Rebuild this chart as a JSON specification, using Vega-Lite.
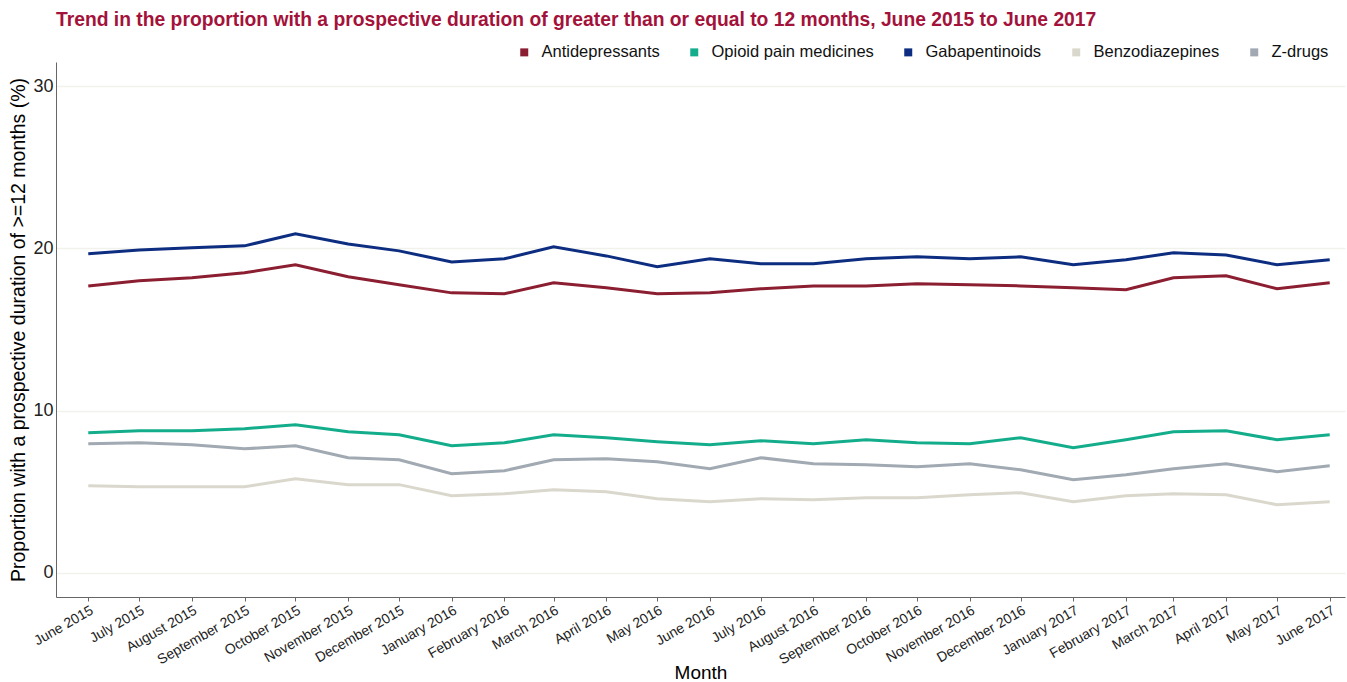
{
  "$schema": "https://vega.github.io/schema/vega-lite/v6.json",
  "autosize": {"type": "none"},
  "padding": {"left": 56, "top": 62, "right": 2, "bottom": 85},
  "width": 1289,
  "height": 535,
  "background": "white",
  "title": {
    "text": "Trend in the proportion with a prospective duration of greater than or equal to 12 months, June 2015 to June 2017",
    "anchor": "start",
    "frame": "group",
    "offset": 14,
    "font": "Liberation Sans",
    "fontSize": 19.3,
    "fontWeight": "bold",
    "color": "#a3123a"
  },
  "config": {
    "view": {"stroke": null},
    "font": "Liberation Sans"
  },
  "data": {
    "values": [
      {"month": "2015-06-01", "drug": "Antidepressants", "value": 17.69},
      {"month": "2015-07-01", "drug": "Antidepressants", "value": 18.0},
      {"month": "2015-08-01", "drug": "Antidepressants", "value": 18.19},
      {"month": "2015-09-01", "drug": "Antidepressants", "value": 18.5},
      {"month": "2015-10-01", "drug": "Antidepressants", "value": 18.99},
      {"month": "2015-11-01", "drug": "Antidepressants", "value": 18.25},
      {"month": "2015-12-01", "drug": "Antidepressants", "value": 17.76},
      {"month": "2016-01-01", "drug": "Antidepressants", "value": 17.26},
      {"month": "2016-02-01", "drug": "Antidepressants", "value": 17.2},
      {"month": "2016-03-01", "drug": "Antidepressants", "value": 17.88},
      {"month": "2016-04-01", "drug": "Antidepressants", "value": 17.57},
      {"month": "2016-05-01", "drug": "Antidepressants", "value": 17.2},
      {"month": "2016-06-01", "drug": "Antidepressants", "value": 17.26},
      {"month": "2016-07-01", "drug": "Antidepressants", "value": 17.51},
      {"month": "2016-08-01", "drug": "Antidepressants", "value": 17.69},
      {"month": "2016-09-01", "drug": "Antidepressants", "value": 17.69},
      {"month": "2016-10-01", "drug": "Antidepressants", "value": 17.82},
      {"month": "2016-11-01", "drug": "Antidepressants", "value": 17.76},
      {"month": "2016-12-01", "drug": "Antidepressants", "value": 17.69},
      {"month": "2017-01-01", "drug": "Antidepressants", "value": 17.57},
      {"month": "2017-02-01", "drug": "Antidepressants", "value": 17.45},
      {"month": "2017-03-01", "drug": "Antidepressants", "value": 18.19},
      {"month": "2017-04-01", "drug": "Antidepressants", "value": 18.31},
      {"month": "2017-05-01", "drug": "Antidepressants", "value": 17.51},
      {"month": "2017-06-01", "drug": "Antidepressants", "value": 17.88},

      {"month": "2015-06-01", "drug": "Opioid pain medicines", "value": 8.63},
      {"month": "2015-07-01", "drug": "Opioid pain medicines", "value": 8.75},
      {"month": "2015-08-01", "drug": "Opioid pain medicines", "value": 8.75},
      {"month": "2015-09-01", "drug": "Opioid pain medicines", "value": 8.88},
      {"month": "2015-10-01", "drug": "Opioid pain medicines", "value": 9.12},
      {"month": "2015-11-01", "drug": "Opioid pain medicines", "value": 8.69},
      {"month": "2015-12-01", "drug": "Opioid pain medicines", "value": 8.51},
      {"month": "2016-01-01", "drug": "Opioid pain medicines", "value": 7.83},
      {"month": "2016-02-01", "drug": "Opioid pain medicines", "value": 8.01},
      {"month": "2016-03-01", "drug": "Opioid pain medicines", "value": 8.51},
      {"month": "2016-04-01", "drug": "Opioid pain medicines", "value": 8.32},
      {"month": "2016-05-01", "drug": "Opioid pain medicines", "value": 8.08},
      {"month": "2016-06-01", "drug": "Opioid pain medicines", "value": 7.89},
      {"month": "2016-07-01", "drug": "Opioid pain medicines", "value": 8.14},
      {"month": "2016-08-01", "drug": "Opioid pain medicines", "value": 7.95},
      {"month": "2016-09-01", "drug": "Opioid pain medicines", "value": 8.2},
      {"month": "2016-10-01", "drug": "Opioid pain medicines", "value": 8.01},
      {"month": "2016-11-01", "drug": "Opioid pain medicines", "value": 7.95},
      {"month": "2016-12-01", "drug": "Opioid pain medicines", "value": 8.32},
      {"month": "2017-01-01", "drug": "Opioid pain medicines", "value": 7.71},
      {"month": "2017-02-01", "drug": "Opioid pain medicines", "value": 8.2},
      {"month": "2017-03-01", "drug": "Opioid pain medicines", "value": 8.69},
      {"month": "2017-04-01", "drug": "Opioid pain medicines", "value": 8.75},
      {"month": "2017-05-01", "drug": "Opioid pain medicines", "value": 8.2},
      {"month": "2017-06-01", "drug": "Opioid pain medicines", "value": 8.51},

      {"month": "2015-06-01", "drug": "Gabapentinoids", "value": 19.67},
      {"month": "2015-07-01", "drug": "Gabapentinoids", "value": 19.91},
      {"month": "2015-08-01", "drug": "Gabapentinoids", "value": 20.04},
      {"month": "2015-09-01", "drug": "Gabapentinoids", "value": 20.16},
      {"month": "2015-10-01", "drug": "Gabapentinoids", "value": 20.9},
      {"month": "2015-11-01", "drug": "Gabapentinoids", "value": 20.28},
      {"month": "2015-12-01", "drug": "Gabapentinoids", "value": 19.85},
      {"month": "2016-01-01", "drug": "Gabapentinoids", "value": 19.17},
      {"month": "2016-02-01", "drug": "Gabapentinoids", "value": 19.36},
      {"month": "2016-03-01", "drug": "Gabapentinoids", "value": 20.1},
      {"month": "2016-04-01", "drug": "Gabapentinoids", "value": 19.54},
      {"month": "2016-05-01", "drug": "Gabapentinoids", "value": 18.87},
      {"month": "2016-06-01", "drug": "Gabapentinoids", "value": 19.36},
      {"month": "2016-07-01", "drug": "Gabapentinoids", "value": 19.05},
      {"month": "2016-08-01", "drug": "Gabapentinoids", "value": 19.05},
      {"month": "2016-09-01", "drug": "Gabapentinoids", "value": 19.36},
      {"month": "2016-10-01", "drug": "Gabapentinoids", "value": 19.48},
      {"month": "2016-11-01", "drug": "Gabapentinoids", "value": 19.36},
      {"month": "2016-12-01", "drug": "Gabapentinoids", "value": 19.48},
      {"month": "2017-01-01", "drug": "Gabapentinoids", "value": 18.99},
      {"month": "2017-02-01", "drug": "Gabapentinoids", "value": 19.3},
      {"month": "2017-03-01", "drug": "Gabapentinoids", "value": 19.73},
      {"month": "2017-04-01", "drug": "Gabapentinoids", "value": 19.6},
      {"month": "2017-05-01", "drug": "Gabapentinoids", "value": 18.99},
      {"month": "2017-06-01", "drug": "Gabapentinoids", "value": 19.3},

      {"month": "2015-06-01", "drug": "Benzodiazepines", "value": 5.36},
      {"month": "2015-07-01", "drug": "Benzodiazepines", "value": 5.3},
      {"month": "2015-08-01", "drug": "Benzodiazepines", "value": 5.3},
      {"month": "2015-09-01", "drug": "Benzodiazepines", "value": 5.3},
      {"month": "2015-10-01", "drug": "Benzodiazepines", "value": 5.8},
      {"month": "2015-11-01", "drug": "Benzodiazepines", "value": 5.43},
      {"month": "2015-12-01", "drug": "Benzodiazepines", "value": 5.43},
      {"month": "2016-01-01", "drug": "Benzodiazepines", "value": 4.75},
      {"month": "2016-02-01", "drug": "Benzodiazepines", "value": 4.87},
      {"month": "2016-03-01", "drug": "Benzodiazepines", "value": 5.12},
      {"month": "2016-04-01", "drug": "Benzodiazepines", "value": 4.99},
      {"month": "2016-05-01", "drug": "Benzodiazepines", "value": 4.56},
      {"month": "2016-06-01", "drug": "Benzodiazepines", "value": 4.38},
      {"month": "2016-07-01", "drug": "Benzodiazepines", "value": 4.56},
      {"month": "2016-08-01", "drug": "Benzodiazepines", "value": 4.5},
      {"month": "2016-09-01", "drug": "Benzodiazepines", "value": 4.62},
      {"month": "2016-10-01", "drug": "Benzodiazepines", "value": 4.62},
      {"month": "2016-11-01", "drug": "Benzodiazepines", "value": 4.81},
      {"month": "2016-12-01", "drug": "Benzodiazepines", "value": 4.93},
      {"month": "2017-01-01", "drug": "Benzodiazepines", "value": 4.38},
      {"month": "2017-02-01", "drug": "Benzodiazepines", "value": 4.75},
      {"month": "2017-03-01", "drug": "Benzodiazepines", "value": 4.87},
      {"month": "2017-04-01", "drug": "Benzodiazepines", "value": 4.81},
      {"month": "2017-05-01", "drug": "Benzodiazepines", "value": 4.19},
      {"month": "2017-06-01", "drug": "Benzodiazepines", "value": 4.38},

      {"month": "2015-06-01", "drug": "Z-drugs", "value": 7.95},
      {"month": "2015-07-01", "drug": "Z-drugs", "value": 8.01},
      {"month": "2015-08-01", "drug": "Z-drugs", "value": 7.89},
      {"month": "2015-09-01", "drug": "Z-drugs", "value": 7.64},
      {"month": "2015-10-01", "drug": "Z-drugs", "value": 7.83},
      {"month": "2015-11-01", "drug": "Z-drugs", "value": 7.09},
      {"month": "2015-12-01", "drug": "Z-drugs", "value": 6.97},
      {"month": "2016-01-01", "drug": "Z-drugs", "value": 6.1},
      {"month": "2016-02-01", "drug": "Z-drugs", "value": 6.29},
      {"month": "2016-03-01", "drug": "Z-drugs", "value": 6.97},
      {"month": "2016-04-01", "drug": "Z-drugs", "value": 7.03},
      {"month": "2016-05-01", "drug": "Z-drugs", "value": 6.84},
      {"month": "2016-06-01", "drug": "Z-drugs", "value": 6.41},
      {"month": "2016-07-01", "drug": "Z-drugs", "value": 7.09},
      {"month": "2016-08-01", "drug": "Z-drugs", "value": 6.72},
      {"month": "2016-09-01", "drug": "Z-drugs", "value": 6.66},
      {"month": "2016-10-01", "drug": "Z-drugs", "value": 6.54},
      {"month": "2016-11-01", "drug": "Z-drugs", "value": 6.72},
      {"month": "2016-12-01", "drug": "Z-drugs", "value": 6.35},
      {"month": "2017-01-01", "drug": "Z-drugs", "value": 5.73},
      {"month": "2017-02-01", "drug": "Z-drugs", "value": 6.04},
      {"month": "2017-03-01", "drug": "Z-drugs", "value": 6.41},
      {"month": "2017-04-01", "drug": "Z-drugs", "value": 6.72},
      {"month": "2017-05-01", "drug": "Z-drugs", "value": 6.23},
      {"month": "2017-06-01", "drug": "Z-drugs", "value": 6.6}
    ]
  },
  "mark": {"type": "line", "strokeWidth": 3},
  "encoding": {
    "x": {
      "field": "month",
      "type": "temporal",
      "scale": {
        "type": "utc",
        "domain": [
          {"year": 2015, "month": 5, "date": 13, "utc": true},
          {"year": 2017, "month": 6, "date": 10, "utc": true}
        ],
        "nice": false
      },
      "axis": {
        "title": "Month",
        "titleFont": "Liberation Sans",
        "titleFontSize": 19,
        "titleFontWeight": "normal",
        "titleColor": "#000000",
        "titleBaseline": "alphabetic",
        "titleY": 81,
        "labelExpr": "utcFormat(datum.value, '%B %Y')",
        "values": [
          {"year": 2015, "month": 6, "date": 1, "utc": true},
          {"year": 2015, "month": 7, "date": 1, "utc": true},
          {"year": 2015, "month": 8, "date": 1, "utc": true},
          {"year": 2015, "month": 9, "date": 1, "utc": true},
          {"year": 2015, "month": 10, "date": 1, "utc": true},
          {"year": 2015, "month": 11, "date": 1, "utc": true},
          {"year": 2015, "month": 12, "date": 1, "utc": true},
          {"year": 2016, "month": 1, "date": 1, "utc": true},
          {"year": 2016, "month": 2, "date": 1, "utc": true},
          {"year": 2016, "month": 3, "date": 1, "utc": true},
          {"year": 2016, "month": 4, "date": 1, "utc": true},
          {"year": 2016, "month": 5, "date": 1, "utc": true},
          {"year": 2016, "month": 6, "date": 1, "utc": true},
          {"year": 2016, "month": 7, "date": 1, "utc": true},
          {"year": 2016, "month": 8, "date": 1, "utc": true},
          {"year": 2016, "month": 9, "date": 1, "utc": true},
          {"year": 2016, "month": 10, "date": 1, "utc": true},
          {"year": 2016, "month": 11, "date": 1, "utc": true},
          {"year": 2016, "month": 12, "date": 1, "utc": true},
          {"year": 2017, "month": 1, "date": 1, "utc": true},
          {"year": 2017, "month": 2, "date": 1, "utc": true},
          {"year": 2017, "month": 3, "date": 1, "utc": true},
          {"year": 2017, "month": 4, "date": 1, "utc": true},
          {"year": 2017, "month": 5, "date": 1, "utc": true},
          {"year": 2017, "month": 6, "date": 1, "utc": true}
        ],
        "labelAngle": -30,
        "labelAlign": "right",
        "labelBaseline": "top",
        "labelFontSize": 14,
        "labelColor": "#222222",
        "labelPadding": 2,
        "labelOverlap": false,
        "labelFlush": false,
        "domainColor": "#666666",
        "domainWidth": 1,
        "tickColor": "#666666",
        "tickSize": 4,
        "grid": false
      }
    },
    "y": {
      "field": "value",
      "type": "quantitative",
      "scale": {"domain": [-1.5, 31.5], "nice": false, "zero": false},
      "axis": {
        "title": "Proportion with a prospective duration of >=12 months (%)",
        "titleFont": "Liberation Sans",
        "titleFontSize": 19.5,
        "titleFontWeight": "normal",
        "titleColor": "#000000",
        "titlePadding": 4,
        "values": [0, 10, 20, 30],
        "labelFontSize": 18,
        "labelColor": "#222222",
        "labelPadding": 3,
        "domainColor": "#666666",
        "domainWidth": 1,
        "tickSize": 0,
        "grid": true,
        "gridColor": "#f2f2ec",
        "gridWidth": 1.5
      }
    },
    "color": {
      "field": "drug",
      "type": "nominal",
      "sort": ["Antidepressants", "Opioid pain medicines", "Gabapentinoids", "Benzodiazepines", "Z-drugs"],
      "scale": {
        "domain": ["Antidepressants", "Opioid pain medicines", "Gabapentinoids", "Benzodiazepines", "Z-drugs"],
        "range": ["#8b1e30", "#14ad8c", "#0d2d80", "#dad8cd", "#a1a9b2"]
      },
      "legend": {
        "orient": "none",
        "direction": "horizontal",
        "legendX": 460,
        "legendY": -18,
        "title": null,
        "symbolType": "square",
        "symbolSize": 64,
        "symbolStrokeWidth": 0,
        "labelFontSize": 16.5,
        "labelLimit": 400,
        "labelColor": "#111111",
        "labelOffset": 9,
        "columnPadding": 26,
        "encode": {
          "symbols": {
            "update": {
              "fill": {"scale": "color", "field": "value"},
              "strokeWidth": {"value": 0}
            }
          }
        }
      }
    }
  }
}
